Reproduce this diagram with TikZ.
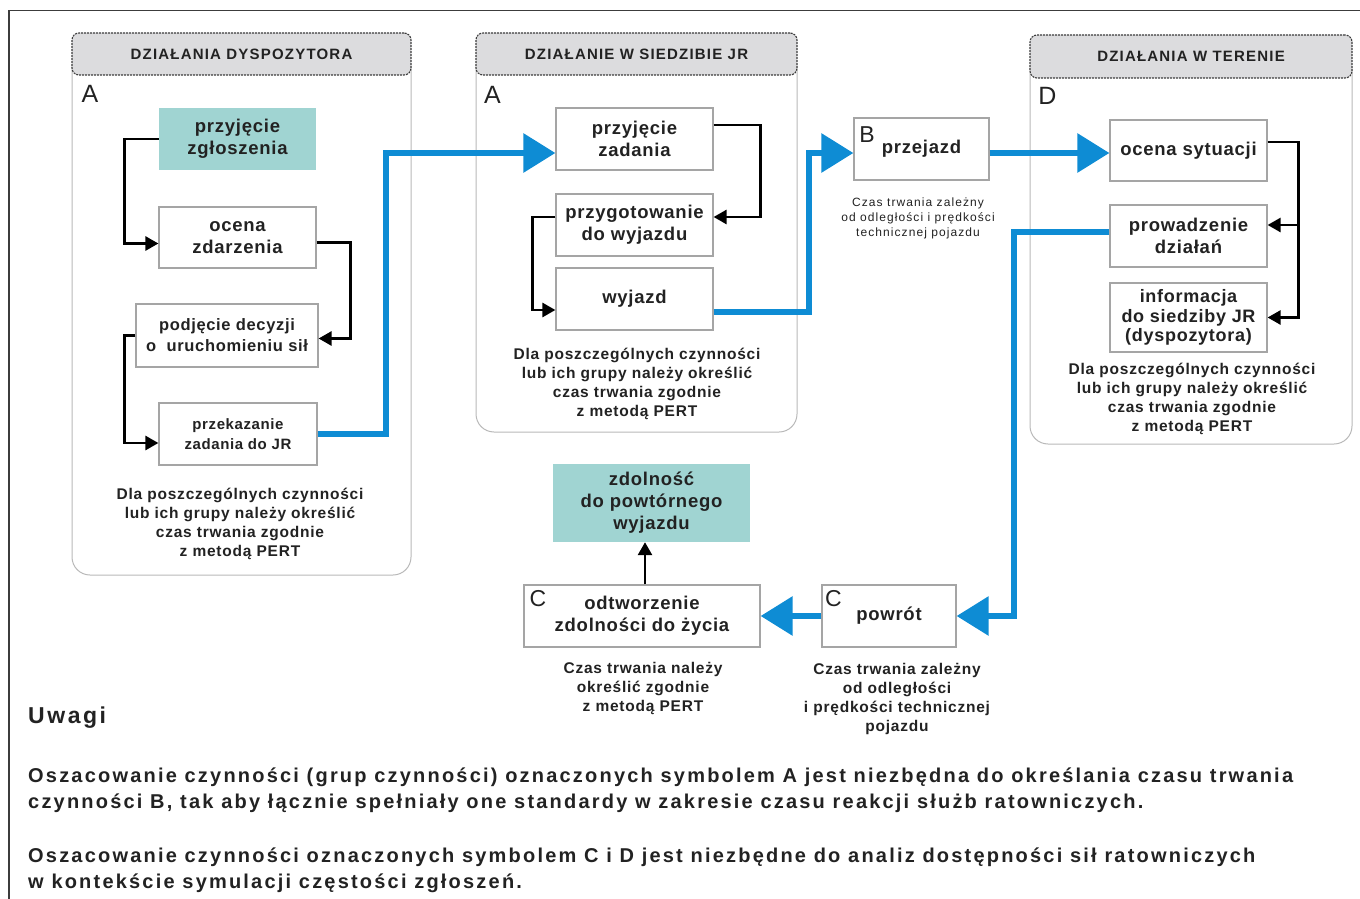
\documentclass[tikz,border=0pt]{standalone}
\usepackage{fontspec}
\setmainfont{Liberation Sans}[LetterSpace=4]
\newfontfamily\hdfont{Liberation Sans}[LetterSpace=8]
\newfontfamily\descfont{Liberation Sans}[LetterSpace=5]
\newfontfamily\notefont{Liberation Sans}[LetterSpace=11]
\newfontfamily\lightfont{Liberation Sans}[LetterSpace=9]
\usetikzlibrary{arrows.meta}
\definecolor{ink}{HTML}{222222}
\definecolor{tealfill}{RGB}{160,212,210}
\definecolor{flowblue}{RGB}{14,140,212}
\definecolor{hdgray}{RGB}{220,220,222}
\definecolor{boxline}{RGB}{165,165,165}
\definecolor{panelline}{RGB}{185,185,185}
\definecolor{framegray}{RGB}{60,60,60}
\newcommand\fsz[2]{\fontsize{#1}{#2}\selectfont}
\begin{document}
\begin{tikzpicture}[x=1pt,y=-1pt,
  every node/.style={text=ink},
  panelbody/.style={draw=panelline,line width=1pt,rounded corners=18pt,fill=white},
  header/.style={draw=framegray,line width=1.1pt,dash pattern=on 2pt off 1pt,
    rounded corners=7pt,fill=hdgray,inner sep=0pt,font=\hdfont\bfseries\fsz{15}{18}},
  actbox/.style={draw=boxline,line width=1.2pt,fill=white,inner sep=0pt,align=center,
    font=\bfseries\fsz{18.5}{22}},
  tealbox/.style={fill=tealfill,inner sep=0pt,align=center,font=\bfseries\fsz{18.5}{22}},
  letter/.style={inner sep=0pt,font=\fsz{25}{25}},
  note/.style={inner sep=0pt,align=center,font=\descfont\bfseries\fsz{15.5}{19}},
  smallnote/.style={inner sep=0pt,align=center,font=\lightfont\fsz{12}{15}},
  blk/.style={draw=black,line width=2.7pt,-{Triangle[length=13pt,width=14pt]}},
  blu/.style={draw=flowblue,line width=6pt,-{Triangle[length=32pt,width=38pt]}},
  frame/.style={draw=framegray,line width=1.5pt}
]
\useasboundingbox (0,0) rectangle (1360,899);

% outer frame
\draw[frame] (9,899) -- (9,10.5) -- (1360,10.5);

% ---- panel bodies ----
\draw[panelbody] (72,50) rectangle (411,575);
\draw[panelbody] (476,50) rectangle (797,432);
\draw[panelbody] (1030,52) rectangle (1352,444);

% ---- headers ----
\node[header,minimum width=339pt,minimum height=42pt] (h1) at (241.5,54) {DZIAŁANIA DYSPOZYTORA};
\node[header,minimum width=321pt,minimum height=42pt] (h2) at (636.5,54) {DZIAŁANIE W SIEDZIBIE JR};
\node[header,minimum width=322pt,minimum height=43pt] (h3) at (1191,56.5) {DZIAŁANIA W TERENIE};

% ---- panel letters ----
\node[letter] (la1) at (90,94) {A};
\node[letter] (la2) at (492.5,95) {A};
\node[letter] (ld) at (1047.5,96) {D};

% ---- dispatcher activities ----
\node[tealbox,minimum width=157pt,minimum height=62pt] (p1a) at (237.5,139) {przyjęcie\\zgłoszenia};
\node[actbox,minimum width=157pt,minimum height=61pt] (p1b) at (237.5,237.5) {ocena\\zdarzenia};
\node[actbox,minimum width=182pt,minimum height=63pt,font=\bfseries\fsz{16.5}{21}] (p1c) at (227,335.5) {podjęcie decyzji\\o\ \ uruchomieniu sił};
\node[actbox,minimum width=158pt,minimum height=62pt,font=\bfseries\fsz{15}{20}] (p1d) at (238,434) {przekazanie\\zadania do JR};
\node[note] (n1) at (240,523.5) {Dla poszczególnych czynności\\lub ich grupy należy określić\\czas trwania zgodnie\\z metodą PERT};

% ---- station activities ----
\node[actbox,minimum width=157pt,minimum height=62pt] (p2a) at (634.5,139) {przyjęcie\\zadania};
\node[actbox,minimum width=157pt,minimum height=62pt] (p2b) at (634.5,225) {przygotowanie\\do wyjazdu};
\node[actbox,minimum width=157pt,minimum height=62pt] (p2c) at (634.5,299) {wyjazd};
\node[note] (n2) at (637,383.5) {Dla poszczególnych czynności\\lub ich grupy należy określić\\czas trwania zgodnie\\z metodą PERT};

% ---- travel ----
\node[actbox,minimum width=135pt,minimum height=62pt] (pB) at (921.5,149) {\raisebox{-5pt}{przejazd}};
\node[letter,font=\fsz{23}{23}] (lb) at (867,135) {B};
\node[smallnote] (nB) at (918,218) {Czas trwania zależny\\od odległości i prędkości\\technicznej pojazdu};

% ---- field activities ----
\node[actbox,minimum width=157pt,minimum height=61pt] (pD1) at (1188.5,150.5) {ocena sytuacji};
\node[actbox,minimum width=157pt,minimum height=62pt] (pD2) at (1188.5,236) {prowadzenie\\działań};
\node[actbox,minimum width=157pt,minimum height=69pt,font=\bfseries\fsz{18}{19.5}] (pD3) at (1188.5,317.5) {informacja\\do siedziby JR\\(dyspozytora)};
\node[note] (n3) at (1192,398.5) {Dla poszczególnych czynności\\lub ich grupy należy określić\\czas trwania zgodnie\\z metodą PERT};

% ---- return and recovery ----
\node[actbox,minimum width=134pt,minimum height=62pt] (pC1) at (889,616) {\raisebox{-2pt}{powrót}};
\node[letter,font=\fsz{23}{23}] (lc1) at (833.5,599) {C};
\node[actbox,minimum width=236pt,minimum height=62pt] (pC2) at (642,616) {odtworzenie\\zdolności do życia};
\node[letter,font=\fsz{23}{23}] (lc2) at (538,599) {C};
\node[tealbox,minimum width=197pt,minimum height=78pt] (pZ) at (651.5,503) {zdolność\\do powtórnego\\wyjazdu};
\node[note] (nC2) at (643,688) {Czas trwania należy\\określić zgodnie\\z metodą PERT};
\node[note] (nC1) at (897,699) {Czas trwania zależny\\od odległości\\i prędkości technicznej\\pojazdu};

% ---- remarks ----
\node[anchor=west,inner sep=0pt,font=\notefont\bfseries\fsz{23}{26}] (uw) at (28,718) {Uwagi};
\node[anchor=west,inner sep=0pt,align=left,font=\notefont\bfseries\fsz{20}{26}] (r1) at (28,790)
  {Oszacowanie czynności (grup czynności) oznaczonych symbolem A jest niezbędna do określania czasu trwania\\
   czynności B, tak aby łącznie spełniały one standardy w zakresie czasu reakcji służb ratowniczych.};
\node[anchor=west,inner sep=0pt,align=left,font=\notefont\bfseries\fsz{20}{26}] (r2) at (28,870)
  {Oszacowanie czynności oznaczonych symbolem C i D jest niezbędne do analiz dostępności sił ratowniczych\\
   w kontekście symulacji częstości zgłoszeń.};

% ---- black flow inside panels ----
\draw[blk] (p1a.west) -- ++(-34,0) |- ([yshift=-6pt]p1b.west);
\draw[blk] ([yshift=-5pt]p1b.east) -- ++(34,0) |- ([yshift=-3pt]p1c.east);
\draw[blk] (p1c.west) -- ++(-11,0) |- ([yshift=-9pt]p1d.west);

\draw[blk] ([yshift=14pt]p2a.east) -- ++(47,0) |- ([yshift=8pt]p2b.east);
\draw[blk] ([yshift=8pt]p2b.west) -- ++(-23,0) |- ([yshift=-11pt]p2c.west);

\coordinate (dj) at ([yshift=8.5pt,xshift=31pt]pD1.east);
\draw[blk] ([yshift=8.5pt]pD1.east) -- (dj) |- (pD3.east);
\draw[blk] (dj |- pD2.east) ++(0,-11) -- ([yshift=11pt]pD2.east);

\draw[blk] ([xshift=3pt]pC2.north) -- ([xshift=3pt]pC2.north |- pZ.south);

% ---- blue main flow ----
\draw[blu] (p1d.east) -- ++(68,0) |- ([yshift=-14pt]p2a.west);
\draw[blu] ([yshift=-13pt]p2c.east) -- ++(95,0) |- ([yshift=-4pt]pB.west);
\draw[blu] ([yshift=-4pt]pB.east) -- ([yshift=-2.5pt]pD1.west);
\draw[blu] ([yshift=4pt]pD2.west) -- ++(-95,0) |- (pC1.east);
\draw[blu] (pC1.west) -- (pC2.east);

\end{tikzpicture}
\end{document}
